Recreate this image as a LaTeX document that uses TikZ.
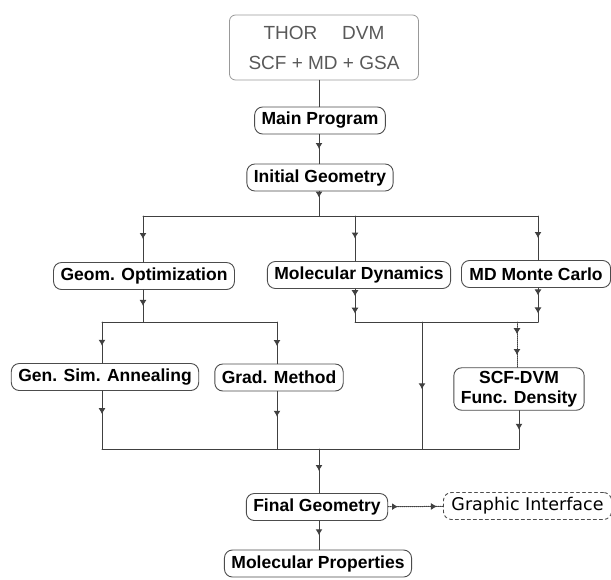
\documentclass[tikz,border=0pt]{standalone}
\usepackage{fontspec}
\setmainfont{Liberation Sans}
\newfontfamily\guifont{DejaVu Sans}
\usetikzlibrary{arrows.meta,decorations.markings}
\tikzset{
  midtip/.style={postaction={decorate,decoration={markings,
      mark=at position #1 with {\arrow{Latex[length=6pt,width=7pt]}}}}},
  midtip/.default=0.5,
  box/.style={draw=black!70,line width=0.9pt,rounded corners=8pt,fill=white,text=black,
    font=\bfseries\fontsize{17.5}{20}\selectfont,inner xsep=7pt,minimum height=27pt},
  topbox/.style={draw=black!40,line width=0.8pt,rounded corners=6pt,
    text=black!65,font=\fontsize{19}{30}\selectfont,align=center,
    minimum width=189pt,minimum height=65pt},
  guibox/.style={box,dashed,font=\guifont\fontsize{17.5}{20}\selectfont},
}
\begin{document}
\begin{tikzpicture}[x=1pt,y=-1pt,line cap=round,line join=round,
  line width=1pt,black!75]
\useasboundingbox (0,0) rectangle (611,579);
\path
(319,216) coordinate (topbus)
(143,216) coordinate (topbusL)
(355,216) coordinate (topbusM)
(538,216) coordinate (topbusR)
(143,322) coordinate (optbus)
(102,322) coordinate (optbusL)
(277,322) coordinate (optbusR)
(355,322) coordinate (mdbusL)
(422,322) coordinate (mdbusM)
(517,322) coordinate (mdbusS)
(538,322) coordinate (mdbusR)
(102,449) coordinate (lowbusL)
(277,449) coordinate (lowbusG)
(319,449) coordinate (lowbusM)
(422,449) coordinate (lowbusD)
(519,449) coordinate (lowbusR)
;
\node[topbox] (thor) at (324,47.5) {THOR\hspace{1.3em}DVM\\SCF + MD + GSA};
\node[box] (main) at (320,120.5) {Main Program};
\node[box] (init) at (320,177.5) {Initial Geometry};
\node[box] (geom) at (144,276) {Geom. Optimization};
\node[box] (moldyn) at (359,275) {Molecular Dynamics};
\node[box,anchor=west,inner xsep=8pt] (monte) at (461,274) {MD Monte Carlo};
\node[box] (gsa) at (105,377) {Gen. Sim. Annealing};
\node[box] (grad) at (279,377.5) {Grad. Method};
\node[box,align=center] (scf) at (519,389) {SCF-DVM\\Func. Density};
\node[box] (final) at (317,507) {Final Geometry};
\node[box] (props) at (318,563.5) {Molecular Properties};
\node[guibox,anchor=west,inner xsep=8pt] (gui) at (443,506) {Graphic Interface};
% upper part
\draw (thor.south -| topbus) -- (main.north -| topbus);
\draw[midtip] (main.south -| topbus) -- (init.north -| topbus);
\draw[midtip=0.25] (init.south -| topbus) -- (topbus);
\draw (topbusL) -- (topbusR);
\draw[midtip] (topbusL) -- (geom.north -| topbusL);
\draw[midtip] (topbusM) -- (moldyn.north -| topbusM);
\draw[midtip] (topbusR) -- (monte.north -| topbusR);
% optimization branch
\draw[midtip] (geom.south -| optbus) -- (optbus);
\draw (optbusL) -- (optbusR);
\draw[midtip=0.58] (optbusL) -- (gsa.north -| optbusL);
\draw[midtip=0.58] (optbusR) -- (grad.north -| optbusR);
% dynamics branch
\draw[midtip=0.22,midtip=0.75] (moldyn.south -| mdbusL) -- (mdbusL);
\draw[midtip=0.22,midtip=0.75] (monte.south -| mdbusR) -- (mdbusR);
\draw (mdbusL) -- (mdbusR);
\draw[densely dotted,midtip=0.27,midtip=0.73] (mdbusS) -- (scf.north -| mdbusS);
\draw[midtip=0.53] (mdbusM) -- (lowbusD);
% lower part
\draw[midtip=0.4] (gsa.south -| lowbusL) -- (lowbusL);
\draw[midtip=0.44] (grad.south -| lowbusG) -- (lowbusG);
\draw[midtip] (scf.south -| lowbusR) -- (lowbusR);
\draw (lowbusL) -- (lowbusR);
\draw[midtip] (lowbusM) -- (final.north -| lowbusM);
\draw[midtip] (final.south -| lowbusM) -- (props.north -| lowbusM);
\draw[densely dotted,midtip=0.18,midtip=0.89] (final) -- (gui);
\end{tikzpicture}
\end{document}
